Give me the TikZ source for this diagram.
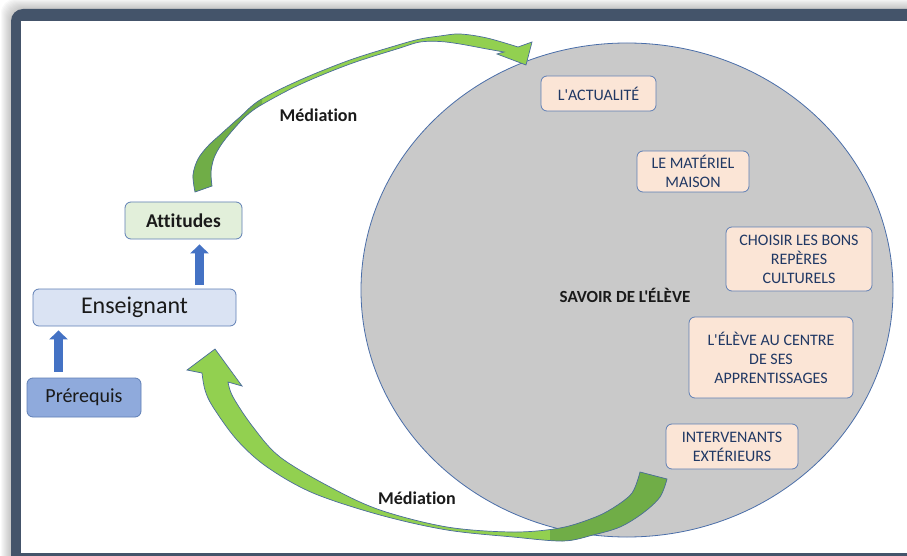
\documentclass[tikz,border=0pt]{standalone}
\usepackage{fontspec}
\newfontfamily\cf[Ligatures=NoCommon]{Carlito}
\usetikzlibrary{arrows.meta,shapes.geometric}
\definecolor{framecol}{HTML}{44546A}
\definecolor{ellfill}{HTML}{C9C9C9}
\definecolor{ellline}{HTML}{4A6EA9}
\definecolor{boxline}{HTML}{5F7FB5}
\definecolor{peach}{HTML}{FBE5D6}
\definecolor{navy}{HTML}{203864}
\definecolor{attfill}{HTML}{E2EFDA}
\definecolor{ensfill}{HTML}{DAE3F3}
\definecolor{prefill}{HTML}{8FAADC}
\definecolor{arrblue}{HTML}{4472C4}
\definecolor{lgreen}{HTML}{92D050}
\definecolor{dgreen}{HTML}{70AD47}
\definecolor{gline}{HTML}{4A6C9B}
\definecolor{txt}{HTML}{1A1A1A}
\newcommand\TopArrowPath{plot[smooth,tension=0.55] coordinates {(195,192) (193,175) (198,159) (208,146) (221,134) (240,117) (260,100) (300,80) (350,60) (398,45) (420,39) (440,36) (460,34) (487,38) (518,47)} -- (532,42) -- (526,65) -- (497,54) -- plot[smooth,tension=0.55] coordinates {(504,52) (487,49) (460,44) (440,41.5) (420,42) (400,48) (350,64) (300,84.5) (262,104.5) (246,116) (232,131) (221,145) (214,158) (211,172) (212,186)} -- cycle}
\newcommand\BotArrowPath{plot[smooth,tension=0.55] coordinates {(202,373) (205,390) (213,407) (237,440) (267,467) (313,493) (380,515) (447,530) (513,537) (563,541) (593,535) (620,527) (643,513) (660,497) (667,479)} -- (640,472) -- plot[smooth,tension=0.55] coordinates {(640,472) (632,493) (613,508) (593,518) (560,528) (513,532) (447,527) (380,510) (330,487) (280,457) (253,427) (233,397) (228,382)} -- (242,386) -- (215,349) -- (187,370) -- cycle}
\tikzset{
  smallbox/.style={draw=boxline, line width=0.8pt, fill=peach, rounded corners=6pt, text=navy,
    font=\cf\fontsize{16}{19}\selectfont, align=center, inner sep=0pt},
  leftbox/.style={draw=boxline, line width=0.8pt, rounded corners=6pt, text=txt, inner sep=0pt},
  bluearr/.style={draw=arrblue, line width=9pt, -{Triangle[length=9pt,width=18pt]}},
  medlabel/.style={font=\cf\fontsize{18}{20}\selectfont\bfseries, text=txt},
  gout/.style={draw=gline, line width=0.7pt}
}
\begin{document}
\begin{tikzpicture}[x=1pt,y=-1pt]
\useasboundingbox (0,0) rectangle (907,556);
% shadow and frame
\foreach \i in {1,...,10} {
  \fill[black!70, opacity=0.035, rounded corners=14pt] (11-\i,9-\i) rectangle (960,600);
}
\fill[framecol, rounded corners=12pt] (11,9) rectangle (950,600);
\fill[white] (21,21) rectangle (907,553);
% ellipse
\node[ellipse, draw=ellline, line width=0.8pt, fill=ellfill, minimum width=532pt, minimum height=494pt, inner sep=0pt] (savoir) at (627,290) {};
\node[font=\cf\fontsize{17}{20}\selectfont\bfseries, text=txt] (savoirlbl) at (625,295) {SAVOIR DE L'ÉLÈVE};
% boxes in ellipse
\node[smallbox, minimum width=115pt, minimum height=35pt] (actu) at (598.5,93.5) {L'ACTUALITÉ};
\node[smallbox, minimum width=112pt, minimum height=41pt] (mat) at (693,171.5) {LE MATÉRIEL\\MAISON};
\node[smallbox, minimum width=146pt, minimum height=64pt] (choisir) at (799,259) {CHOISIR LES BONS\\REPÈRES\\CULTURELS};
\node[smallbox, minimum width=164pt, minimum height=81pt] (centre) at (771,357.5) {L'ÉLÈVE AU CENTRE\\DE SES\\APPRENTISSAGES};
\node[smallbox, minimum width=132pt, minimum height=45pt] (interv) at (732,446.5) {INTERVENANTS\\EXTÉRIEURS};
% left boxes
\node[leftbox, fill=attfill, minimum width=117pt, minimum height=37pt, font=\cf\fontsize{19.5}{22}\selectfont\bfseries] (att) at (183.5,220.5) {Attitudes};
\node[leftbox, fill=ensfill, minimum width=203pt, minimum height=37pt, font=\cf\fontsize{24}{26}\selectfont] (ens) at (134.5,307.5) {Enseignant};
\node[leftbox, fill=prefill, minimum width=114pt, minimum height=39pt, font=\cf\fontsize{20}{22}\selectfont] (pre) at (84,397.5) {Prérequis};
% blue arrows
\draw[bluearr, shorten <=4pt, shorten >=5pt] ([xshift=65pt]ens.north) -- ([xshift=16pt]att.south);
\draw[bluearr, shorten <=6pt, shorten >=4pt] ([xshift=-25.5pt]pre.north) -- ([xshift=-76pt]ens.south);
% green curved arrows
\fill[lgreen] \TopArrowPath;
\begin{scope}
  \clip (0,90) rectangle (262,300);
  \fill[dgreen] \TopArrowPath;
\end{scope}
\draw[gout] \TopArrowPath;
\fill[lgreen] \BotArrowPath;
\begin{scope}
  \clip (550,400) rectangle (700,556);
  \fill[dgreen] \BotArrowPath;
\end{scope}
\draw[gout] \BotArrowPath;
% labels
\node[medlabel] (med1) at (318.5,115) {Médiation};
\node[medlabel] (med2) at (417,498) {Médiation};
\end{tikzpicture}
\end{document}
